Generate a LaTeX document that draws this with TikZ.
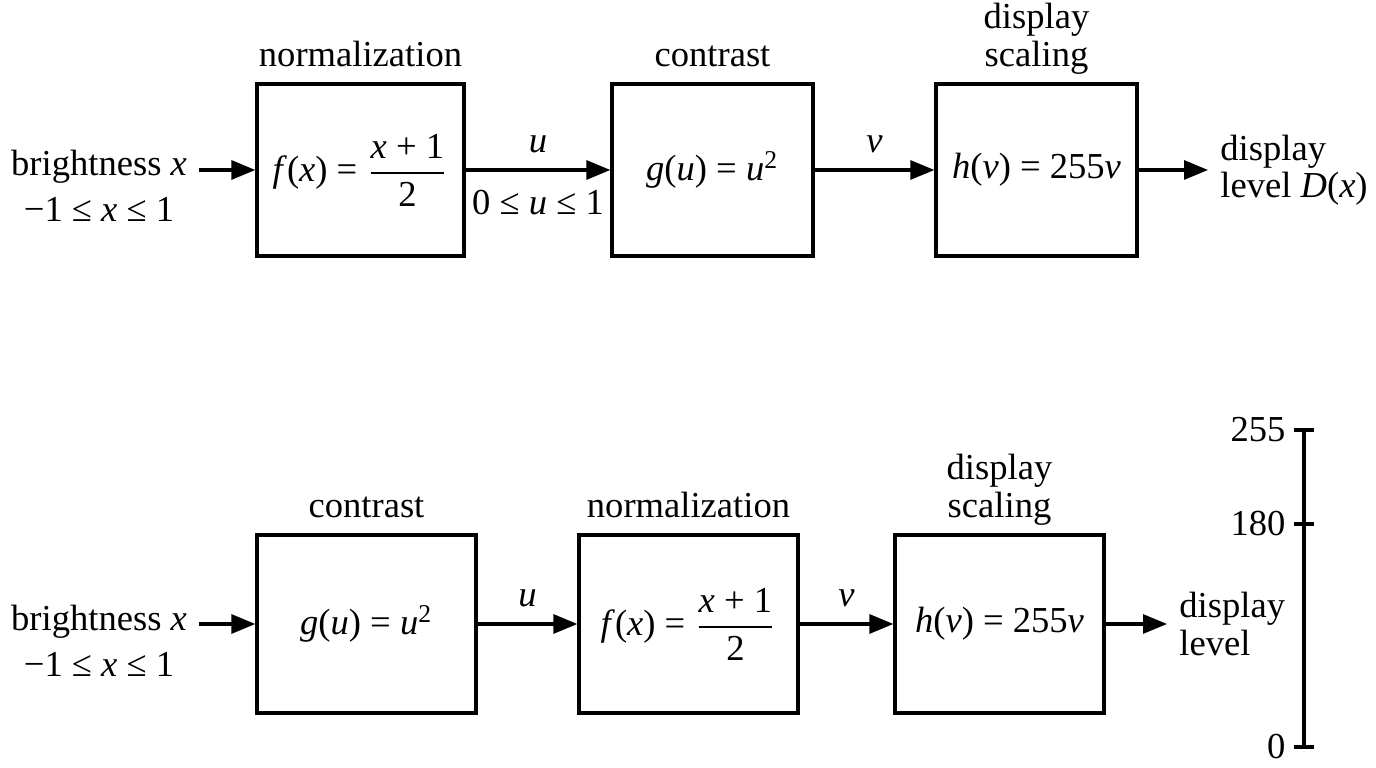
\documentclass[tikz,border=0pt]{standalone}
\usepackage{amsmath}
\usepackage{fontspec}
\setmainfont{Liberation Serif}
\usepackage{tikz}
\usetikzlibrary{arrows.meta, calc, positioning}

\newcommand{\itl}[1]{\textit{#1}}
\tikzset{
  blk/.style={draw, line width=0.9pt, inner sep=0pt},
  lbl/.style={inner sep=0pt, text depth=0.25em, align=center},
  src/.style={align=center, anchor=north, font=\fontsize{10.4}{12.9}\selectfont},
  sig/.style={->, line width=0.9pt},
}

\begin{document}
\begin{tikzpicture}[x=0.01cm, y=-0.01cm, >={Triangle[length=2.4mm,width=1.9mm]},
  every node/.style={font=\fontsize{10.4}{10.6}\selectfont}]
		\useasboundingbox (0,0) rectangle (1376,768);
		% first chain
		\node[blk, minimum width=2.07cm, minimum height=1.72cm] (nA) at (360.5,170) {\itl{f}(\itl{x}) = $\dfrac{\text{\itl{x} + 1}}{\text{2}}$};
		\node[blk, minimum width=2.01cm, minimum height=1.72cm] (nB) at (712.5,170) {\itl{g}(\itl{u}) = \itl{u}\textsuperscript{2}};
		\node[blk, minimum width=2.01cm, minimum height=1.72cm] (nC) at (1036.5,170) {\itl{h}(\itl{v}) = 255\itl{v}};
		\node[lbl, above=1.9pt of nA] {normalization}; \node[lbl, above=1.9pt of nB] {contrast}; \node[lbl, above=1.9pt of nC] {display\\scaling};
		\node[src] (inA) at (99,138) {brightness \itl{x}\\−1 ≤ \itl{x} ≤ 1};
		\node[align=left, anchor=west] (outA) at (1208,170) {display\\level \itl{D}(\itl{x})};
		\draw[sig] (inA.east |- nA) -- (nA);
		\draw[sig] (nA) -- node[above=1pt]{\itl{u}} node[below=2pt]{0 ≤ \itl{u} ≤ 1} (nB);
		\draw[sig] (nB) -- node[above=1pt]{\itl{v}} (nC);
		\draw[sig] (nC) -- (outA);
		% second chain, order swapped
		\node[blk, minimum width=2.19cm, minimum height=1.78cm] (nD) at (366.5,624) {\itl{g}(\itl{u}) = \itl{u}\textsuperscript{2}};
		\node[blk, minimum width=2.19cm, minimum height=1.78cm] (nE) at (688.5,624) {\itl{f}(\itl{x}) = $\dfrac{\text{\itl{x} + 1}}{\text{2}}$};
		\node[blk, minimum width=2.09cm, minimum height=1.78cm] (nF) at (999.5,624) {\itl{h}(\itl{v}) = 255\itl{v}};
		\node[lbl, above=1.9pt of nD] {contrast}; \node[lbl, above=1.9pt of nE] {normalization}; \node[lbl, above=1.9pt of nF] {display\\scaling};
		\node[src] (inD) at (99,593) {brightness \itl{x}\\−1 ≤ \itl{x} ≤ 1};
		\node[align=left, anchor=west] (outD) at (1167,624) {display\\level};
		\draw[sig] (inD.east |- nD) -- (nD);
		\draw[sig] (nD) -- node[above=1pt]{\itl{u}} (nE);
		\draw[sig] (nE) -- node[above=1pt]{\itl{v}} (nF);
		\draw[sig] (nF) -- (outD);
		% level scale
		\draw[line width=0.9pt] (1304,430) -- (1304,747);
		\foreach \val/\yy in {255/430, 180/524, 0/747} \draw[line width=0.9pt] (1294,\yy) -- (1314,\yy) node[pos=0, left, inner sep=2pt] (t\val) {\val};
	\end{tikzpicture}
\end{document}
